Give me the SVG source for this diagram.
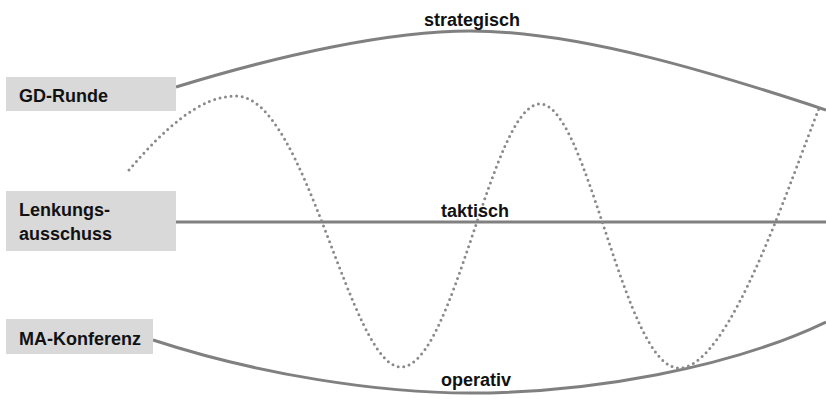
<svg xmlns="http://www.w3.org/2000/svg" width="826" height="401" viewBox="0 0 826 401">
<style>
.box{fill:#d9d9d9;}
.lbl{font-family:"Liberation Sans",Arial,sans-serif;font-weight:bold;font-size:18px;fill:#111;}
.line{fill:none;stroke:#808080;stroke-width:3;}
.dots{fill:none;stroke:#8a8a8a;stroke-width:3;stroke-linecap:round;stroke-dasharray:0 5.6;}
</style>
<rect width="826" height="401" fill="#fff"/>
<g id="connectors">
<path class="line" d="M176 87 C280 55 390 31 470 31 C580 31 720 75 826 110"/>
<path class="line" d="M176 222 H826"/>
<path class="line" d="M153 340 C260 375 380 393 470 393 C590 393 730 368 826 322"/>
<path class="dots" d="M129 170 C165 128 200 96 236 96 C306 96 350 367 401 367 C454 367 492 104 540 104 C588 104 624 368 679 368 C730 368 790 180 820 106"/>
</g>
<g id="gd-runde">
<rect class="box" x="6" y="77" width="170" height="34"/>
<text class="lbl" x="19" y="102">GD-Runde</text>
</g>
<g id="lenkungsausschuss">
<rect class="box" x="6" y="191" width="170" height="60"/>
<text class="lbl" x="19" y="216">Lenkungs-</text>
<text class="lbl" x="19" y="240">ausschuss</text>
</g>
<g id="ma-konferenz">
<rect class="box" x="6" y="319" width="147" height="35"/>
<text class="lbl" x="19" y="345">MA-Konferenz</text>
</g>
<g id="strategisch">
<text class="lbl" x="472" y="26" text-anchor="middle">strategisch</text>
</g>
<g id="taktisch">
<text class="lbl" x="475" y="217" text-anchor="middle">taktisch</text>
</g>
<g id="operativ">
<text class="lbl" x="476" y="386" text-anchor="middle">operativ</text>
</g>
</svg>
